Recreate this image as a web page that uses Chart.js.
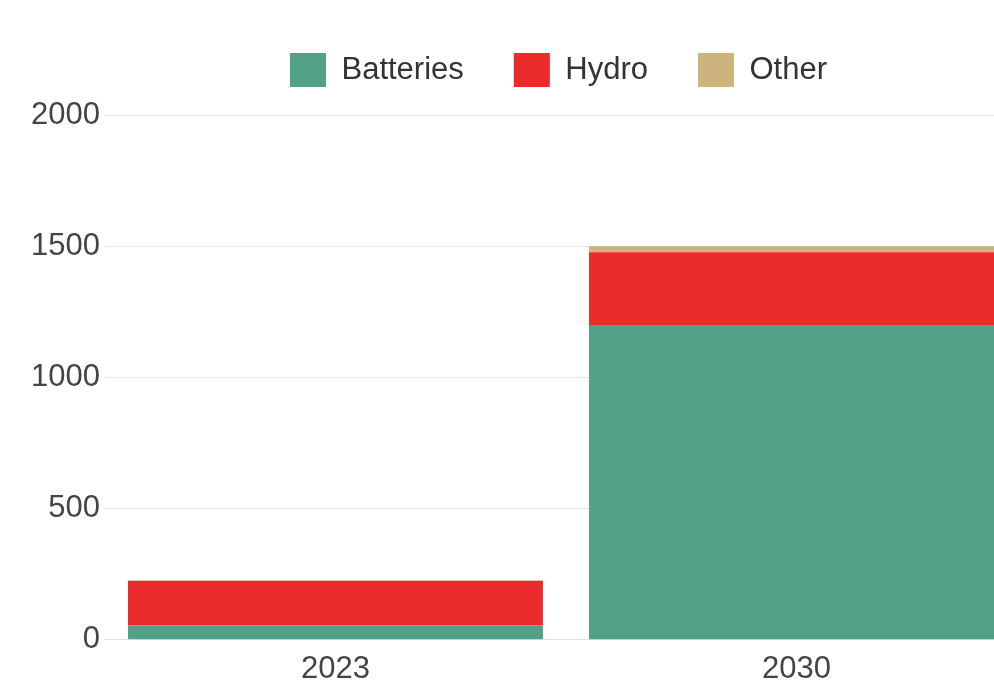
<!DOCTYPE html>
<html>
<head>
<meta charset="utf-8">
<script src="https://cdn.jsdelivr.net/npm/chart.js@4"></script>
<style>
  html, body { margin: 0; padding: 0; overflow: hidden; background: #fff; }
  #wrap { position: absolute; left: 0; top: 0; }
</style>
</head>
<body>
<div id="wrap">
  <canvas id="chart" width="1091" height="691"></canvas>
</div>
<script>
// chart data
const years = ["2023", "2030"];
const batteries = [55, 1200];
const hydro = [170, 277];
const other = [1, 23];
const yTicks = [0, 500, 1000, 1500, 2000];

const font = "'Liberation Sans', Arial, sans-serif";

// a bit more room between the legend and the plot
const legendGap = {
  id: "legendGap",
  beforeInit(chart) {
    const fit = chart.legend.fit;
    chart.legend.fit = function () {
      fit.bind(chart.legend)();
      this.height += 18;
    };
  },
};

const ctx = document.getElementById("chart").getContext("2d");

new Chart(ctx, {
  type: "bar",
  data: {
    labels: years,
    datasets: [
      {
        label: "Batteries",
        data: batteries,
        backgroundColor: "#51a088",
        borderWidth: 0,
      },
      {
        label: "Hydro",
        data: hydro,
        backgroundColor: "#eb2a2b",
        borderWidth: 0,
      },
      {
        label: "Other",
        data: other,
        backgroundColor: "#cdb37c",
        borderWidth: 0,
      },
    ],
  },
  options: {
    responsive: false,
    animation: false,
    layout: {
      padding: { top: 3, left: 26, right: 0, bottom: 0 },
    },
    datasets: {
      bar: {
        categoryPercentage: 1,
        barPercentage: 0.9,
      },
    },
    scales: {
      x: {
        stacked: true,
        grid: { display: false },
        border: { display: true, color: "#e2e2e2" },
        ticks: {
          color: "#444",
          font: { family: font, size: 31 },
        },
      },
      y: {
        stacked: true,
        min: 0,
        max: yTicks[yTicks.length - 1],
        afterBuildTicks: (axis) => {
          axis.ticks = yTicks.map((v) => ({ value: v }));
        },
        grid: { color: "#e6e6e6", drawTicks: false },
        border: { display: false },
        ticks: {
          color: "#444",
          padding: 5,
          font: { family: font, size: 31 },
          callback: (value) => String(value),
        },
      },
      // empty right axis, only keeps the space on the right side
      y1: {
        position: "right",
        grid: { display: false },
        border: { display: false },
        ticks: { display: false },
        afterFit: (axis) => {
          axis.width = 64;
        },
      },
    },
    plugins: {
      tooltip: { enabled: false },
      legend: {
        position: "top",
        labels: {
          boxWidth: 36,
          boxHeight: 34,
          padding: 50,
          color: "#333",
          font: { family: font, size: 31 },
        },
      },
    },
  },
  plugins: [legendGap],
});
</script>
</body>
</html>
